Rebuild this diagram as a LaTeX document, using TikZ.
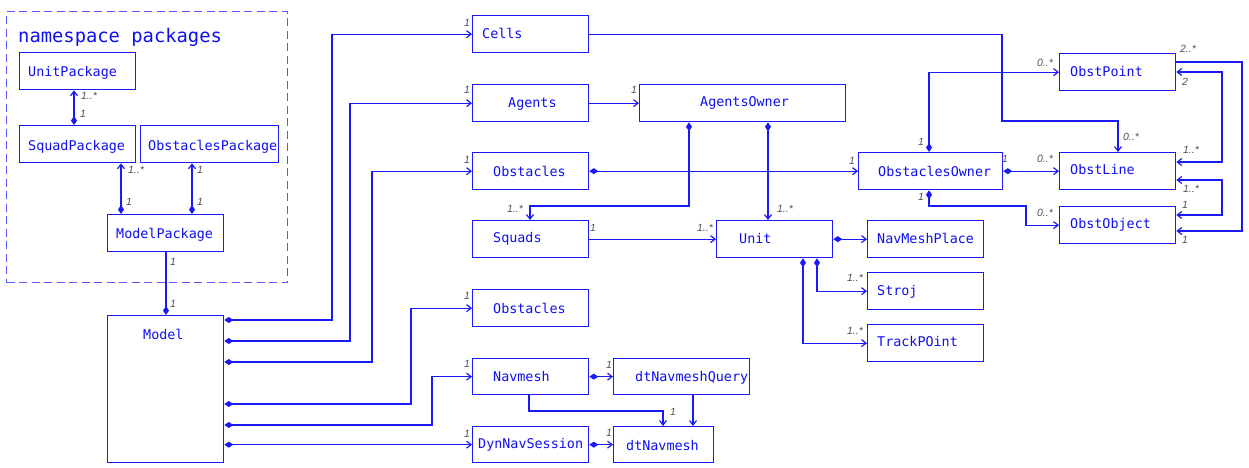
\documentclass[tikz,border=0pt]{standalone}
\usepackage{fontspec}
\setmonofont{DejaVu Sans Mono}
\newfontfamily\labfont{Liberation Sans}
\usetikzlibrary{arrows.meta}
\definecolor{umlblue}{RGB}{25,25,250}
\definecolor{umlframe}{RGB}{85,85,250}
\definecolor{umltext}{RGB}{15,15,240}
\definecolor{multgray}{RGB}{80,80,80}
\begin{document}
\begin{tikzpicture}[x=1pt,y=-1pt,
  box/.style={draw=umlblue, line width=1.3pt, anchor=north west, inner sep=0pt, minimum height=37pt},
  txt/.style={font=\ttfamily\fontsize{13.4}{14}\selectfont, text=umltext, anchor=west, inner sep=0pt, text height=9.8pt, text depth=0pt},
  mult/.style={font=\labfont\itshape\fontsize{10.5}{11}\selectfont, text=multgray, inner sep=0pt},
  conn/.style={draw=umlblue, line width=1.2pt},
  nav/.style={conn, -{Straight Barb[length=4.5pt,width=7pt]}},
  both/.style={conn, {Straight Barb[length=4.5pt,width=7pt]}-{Straight Barb[length=4.5pt,width=7pt]}},
  comp/.style={conn, {Diamond[length=9pt,width=6pt]}-{Straight Barb[length=4.5pt,width=7pt]}},
  componly/.style={conn, {Diamond[length=9pt,width=6pt]}-}
]
\useasboundingbox (0,0) rectangle (1249,467);

% package frame
\node[draw=umlframe, line width=1.3pt, dash pattern=on 8pt off 4.5pt, anchor=north west, inner sep=0pt,
      minimum width=281pt, minimum height=271pt] (pkgframe) at (6,11) {};
\node[font=\ttfamily\fontsize{18.8}{20}\selectfont, text=umltext, anchor=west, inner sep=0pt, text height=13.7pt, text depth=0pt] (title) at (18,36) {namespace packages};

% boxes
\node[box, minimum width=116pt] (unitpkg) at (19,52) {};
\node[box, minimum width=116pt] (squadpkg) at (19,125) {};
\node[box, minimum width=138pt] (obstpkg) at (140,125) {};
\node[box, minimum width=116pt] (modelpkg) at (107,214) {};
\node[box, minimum width=116pt, minimum height=147pt] (model) at (107,315) {};

\node[box, minimum width=116pt] (cells) at (472,15) {};
\node[box, minimum width=116pt] (agents) at (472,84) {};
\node[box, minimum width=116pt] (obst) at (472,152) {};
\node[box, minimum width=116pt] (squads) at (472,220) {};
\node[box, minimum width=116pt] (obstb) at (472,289) {};
\node[box, minimum width=116pt, minimum height=36pt] (navmesh) at (472,358) {};
\node[box, minimum width=116pt, minimum height=36pt] (dynnav) at (472,426) {};

\node[box, minimum width=206pt] (agentsowner) at (639,84) {};
\node[box, minimum width=116pt] (unit) at (716,220) {};
\node[box, minimum width=116pt] (navmeshplace) at (867,220) {};
\node[box, minimum width=116pt] (stroj) at (867,272) {};
\node[box, minimum width=116pt] (trackpoint) at (867,324) {};
\node[box, minimum width=144pt] (obstowner) at (858,152) {};
\node[box, minimum width=116pt] (obstpoint) at (1059,53) {};
\node[box, minimum width=116pt] (obstline) at (1059,152) {};
\node[box, minimum width=116pt] (obstobject) at (1059,206) {};
\node[box, minimum width=136pt, minimum height=36pt] (dtquery) at (613,358) {};
\node[box, minimum width=100pt, minimum height=36pt] (dtnavmesh) at (613,426) {};

% texts
\node[txt] (unitpkgT) at (28,72) {UnitPackage};
\node[txt] (squadpkgT) at (28,146) {SquadPackage};
\node[txt, fill=white] (obstpkgT) at (148,146) {ObstaclesPackage};
\node[txt] (modelpkgT) at (116,234) {ModelPackage};
\node[txt] (modelT) at (143,335) {Model};
\node[txt] (cellsT) at (482,34) {Cells};
\node[txt] (agentsT) at (508,103) {Agents};
\node[txt] (obstT) at (493,172) {Obstacles};
\node[txt] (squadsT) at (493,238) {Squads};
\node[txt] (obstbT) at (493,309) {Obstacles};
\node[txt] (navmeshT) at (493,377) {Navmesh};
\node[txt] (dynnavT) at (478,444) {DynNavSession};
\node[txt] (agentsownerT) at (700,102) {AgentsOwner};
\node[txt] (unitT) at (739,239) {Unit};
\node[txt] (navmeshplaceT) at (877,239) {NavMeshPlace};
\node[txt] (strojT) at (877,291) {Stroj};
\node[txt] (trackpointT) at (877,342) {TrackPOint};
\node[txt] (obstownerT) at (878,172) {ObstaclesOwner};
\node[txt] (obstpointT) at (1070,72) {ObstPoint};
\node[txt] (obstlineT) at (1070,170) {ObstLine};
\node[txt] (obstobjectT) at (1070,224) {ObstObject};
\node[txt, fill=white] (dtqueryT) at (635,377) {dtNavmeshQuery};
\node[txt] (dtnavmeshT) at (626,446) {dtNavmesh};

% connectors inside package
\draw[comp] (74,0 |- squadpkg.north) -- (74,0 |- unitpkg.south);
\draw[comp] (121,0 |- modelpkg.north) -- (121,0 |- squadpkg.south);
\draw[comp] (192,0 |- modelpkg.north) -- (192,0 |- obstpkg.south);
\draw[componly] (166,0 |- model.north) -- (166,0 |- modelpkg.south);

% Model connectors
\draw[comp] (model.east |- 0,320) -| (332,0 |- cells.west) -- (cells.west);
\draw[comp] (model.east |- 0,341) -| (350,0 |- agents.west) -- (agents.west);
\draw[comp] (model.east |- 0,362) -| (372,0 |- obst.west) -- (obst.west);
\draw[comp] (model.east |- 0,404) -| (411,0 |- obstb.west) -- (obstb.west);
\draw[comp] (model.east |- 0,425) -| (432,0 |- navmesh.west) -- (navmesh.west);
\draw[comp] (model.east |- dynnav.west) -- (dynnav.west);

% others
\draw[nav] (agents.east) -- (agentsowner.west);
\draw[nav] (cells.east) -- (1002,0 |- cells.east) -- (1002,121) -- (1118,121) -- (1118,0 |- obstline.north);
\draw[comp] (689,0 |- agentsowner.south) -- (689,206) -| (530,0 |- squads.north);
\draw[comp] (768,0 |- agentsowner.south) -- (768,0 |- unit.north);
\draw[comp] (obst.east) -- (obstowner.west);
\draw[nav] (squads.east) -- (unit.west);
\draw[comp] (unit.east) -- (navmeshplace.west);
\draw[comp] (817,0 |- unit.south) |- (stroj.west);
\draw[comp] (803,0 |- unit.south) |- (trackpoint.west);
\draw[comp] (929,0 |- obstowner.north) |- (obstpoint.west);
\draw[comp] (obstowner.east) -- (obstline.west);
\draw[comp] (929,0 |- obstowner.south) -- (929,206) -| (1026,0 |- obstobject.west) -- (obstobject.west);
\draw[both] (obstpoint.east |- 0,72) -- (1222,72) -- (1222,162) -- (obstline.east |- 0,162);
\draw[nav] (obstpoint.east |- 0,62) -- (1242,62) -- (1242,231) -- (obstobject.east |- 0,231);
\draw[both] (obstline.east |- 0,180) -- (1222,180) -- (1222,215) -- (obstobject.east |- 0,215);
\draw[comp] (navmesh.east) -- (dtquery.west);
\draw[comp] (dynnav.east) -- (dtnavmesh.west);
\draw[nav] (529,0 |- navmesh.south) |- (663,411) -- (663,0 |- dtnavmesh.north);
\draw[nav] (693,0 |- dtquery.south) -- (693,0 |- dtnavmesh.north);

% multiplicities
\node[mult] (m1) at (89,96) {1..*};
\node[mult] (m2) at (83,114) {1};
\node[mult] (m3) at (136,170) {1..*};
\node[mult] (m4) at (129,202) {1};
\node[mult] (m5) at (200,170) {1};
\node[mult] (m6) at (200,202) {1};
\node[mult] (m7) at (173,262) {1};
\node[mult] (m8) at (173,304) {1};
\node[mult] (m9) at (467,23) {1};
\node[mult] (m10) at (467,90) {1};
\node[mult] (m11) at (467,160) {1};
\node[mult] (m12) at (467,296) {1};
\node[mult] (m13) at (467,364) {1};
\node[mult] (m14) at (467,434) {1};
\node[mult] (m15) at (634,90) {1};
\node[mult] (m16) at (1131,137) {0..*};
\node[mult] (m17) at (515,209) {1..*};
\node[mult] (m18) at (785,209) {1..*};
\node[mult] (m19) at (852,161) {1};
\node[mult] (m20) at (593,228) {1};
\node[mult] (m21) at (705,228) {1..*};
\node[mult] (m22) at (855,278) {1..*};
\node[mult] (m23) at (855,331) {1..*};
\node[mult] (m24) at (921,142) {1};
\node[mult] (m25) at (1045,63) {0..*};
\node[mult] (m26) at (1005,159) {1};
\node[mult] (m27) at (1045,159) {0..*};
\node[mult] (m28) at (921,197) {1};
\node[mult] (m29) at (1045,213) {0..*};
\node[mult] (m30) at (1185,82) {2};
\node[mult] (m31) at (1191,150) {1..*};
\node[mult] (m32) at (1188,49) {2..*};
\node[mult] (m33) at (1185,240) {1};
\node[mult] (m34) at (1191,189) {1..*};
\node[mult] (m35) at (1185,205) {1};
\node[mult] (m36) at (609,365) {1};
\node[mult] (m37) at (609,433) {1};
\node[mult] (m38) at (673,412) {1};
\end{tikzpicture}
\end{document}
